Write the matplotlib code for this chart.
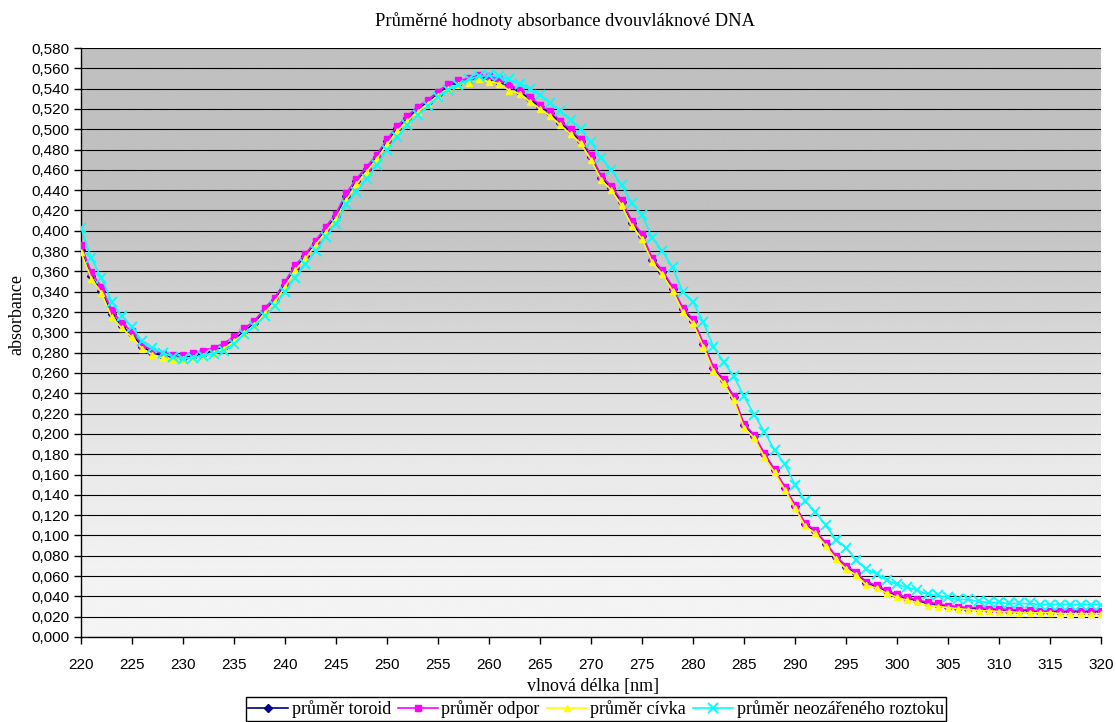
import numpy as np
import matplotlib.pyplot as plt
from matplotlib.ticker import MultipleLocator, FuncFormatter

# wavelength axis, 1 nm step
wavelength = list(range(220, 321))

toroid = [0.381, 0.355, 0.341, 0.318, 0.306, 0.298, 0.286, 0.280, 0.277, 0.276,
          0.275, 0.277, 0.279, 0.282, 0.286, 0.293, 0.301, 0.309, 0.321, 0.332,
          0.347, 0.363, 0.375, 0.388, 0.401, 0.415, 0.434, 0.449, 0.461, 0.473,
          0.488, 0.501, 0.511, 0.520, 0.527, 0.535, 0.543, 0.546, 0.548, 0.551,
          0.550, 0.547, 0.542, 0.537, 0.530, 0.522, 0.516, 0.506, 0.498, 0.488,
          0.473, 0.452, 0.442, 0.428, 0.408, 0.395, 0.371, 0.359, 0.343, 0.323,
          0.311, 0.289, 0.265, 0.253, 0.236, 0.209, 0.198, 0.180, 0.164, 0.147,
          0.129, 0.111, 0.104, 0.092, 0.079, 0.069, 0.063, 0.053, 0.050, 0.045,
          0.041, 0.038, 0.036, 0.033, 0.032, 0.030, 0.029, 0.028, 0.028, 0.027,
          0.027, 0.026, 0.026, 0.026, 0.025, 0.025, 0.025, 0.025, 0.025, 0.025,
          0.025]

odpor = [0.386, 0.359, 0.345, 0.322, 0.309, 0.301, 0.288, 0.282, 0.279, 0.278,
         0.278, 0.280, 0.282, 0.285, 0.289, 0.296, 0.304, 0.311, 0.324, 0.334,
         0.350, 0.366, 0.377, 0.390, 0.404, 0.417, 0.437, 0.451, 0.463, 0.475,
         0.490, 0.503, 0.513, 0.522, 0.529, 0.537, 0.545, 0.548, 0.550, 0.553,
         0.552, 0.549, 0.544, 0.539, 0.532, 0.524, 0.518, 0.508, 0.500, 0.490,
         0.475, 0.454, 0.444, 0.430, 0.410, 0.397, 0.373, 0.361, 0.345, 0.324,
         0.313, 0.290, 0.266, 0.254, 0.237, 0.210, 0.199, 0.181, 0.165, 0.148,
         0.130, 0.112, 0.105, 0.093, 0.080, 0.070, 0.064, 0.054, 0.051, 0.046,
         0.042, 0.039, 0.037, 0.034, 0.033, 0.031, 0.030, 0.029, 0.029, 0.028,
         0.028, 0.027, 0.027, 0.027, 0.026, 0.026, 0.026, 0.026, 0.026, 0.026,
         0.026]

civka = [0.379, 0.353, 0.339, 0.315, 0.304, 0.295, 0.284, 0.278, 0.275, 0.274,
         0.274, 0.275, 0.277, 0.280, 0.284, 0.291, 0.299, 0.307, 0.319, 0.330,
         0.345, 0.361, 0.373, 0.386, 0.399, 0.412, 0.430, 0.446, 0.458, 0.471,
         0.485, 0.498, 0.508, 0.517, 0.525, 0.533, 0.540, 0.544, 0.546, 0.549,
         0.547, 0.545, 0.538, 0.535, 0.527, 0.520, 0.513, 0.504, 0.495, 0.486,
         0.470, 0.450, 0.440, 0.425, 0.405, 0.392, 0.369, 0.357, 0.341, 0.320,
         0.309, 0.286, 0.262, 0.250, 0.233, 0.206, 0.196, 0.177, 0.162, 0.145,
         0.127, 0.109, 0.102, 0.090, 0.077, 0.067, 0.061, 0.051, 0.048, 0.043,
         0.039, 0.036, 0.034, 0.031, 0.030, 0.029, 0.028, 0.027, 0.026, 0.026,
         0.025, 0.025, 0.024, 0.024, 0.024, 0.024, 0.023, 0.023, 0.023, 0.023,
         0.023]

neozareny = [0.403, 0.373, 0.354, 0.330, 0.316, 0.305, 0.291, 0.285, 0.280, 0.276,
             0.274, 0.275, 0.277, 0.279, 0.282, 0.289, 0.298, 0.306, 0.316, 0.326,
             0.340, 0.354, 0.367, 0.380, 0.394, 0.407, 0.426, 0.438, 0.451, 0.465,
             0.480, 0.492, 0.504, 0.514, 0.523, 0.532, 0.539, 0.544, 0.549, 0.552,
             0.553, 0.552, 0.549, 0.545, 0.540, 0.534, 0.526, 0.518, 0.509, 0.500,
             0.487, 0.472, 0.460, 0.445, 0.427, 0.416, 0.393, 0.380, 0.364, 0.340,
             0.330, 0.310, 0.286, 0.271, 0.257, 0.237, 0.219, 0.202, 0.184, 0.170,
             0.150, 0.134, 0.123, 0.110, 0.096, 0.088, 0.076, 0.067, 0.062, 0.056,
             0.052, 0.049, 0.046, 0.042, 0.041, 0.039, 0.037, 0.037, 0.035, 0.034,
             0.034, 0.033, 0.033, 0.033, 0.032, 0.032, 0.032, 0.032, 0.032, 0.032,
             0.032]

labels = ['průměr toroid', 'průměr odpor', 'průměr cívka', 'průměr neozářeného roztoku']

W, H = 1116, 722
fig = plt.figure(figsize=(W / 100, H / 100), dpi=100)
ax = fig.add_axes([81 / W, 1 - 637 / H, 1020 / W, 589 / H])

# grey plot-area gradient, lighter towards the bottom
levels = np.linspace(0.58, 0, 400)
shade = np.interp(levels[::-1], [0, 0.05, 0.17, 0.30, 0.42, 0.58],
                  [245, 243, 233, 215, 192, 192])[::-1] / 255
ax.imshow(shade[:, None], extent=[220, 320, 0, 0.58], aspect='auto',
          cmap='gray', vmin=0, vmax=1, zorder=0, interpolation='bilinear')

ax.set_xlim(220, 320)
ax.set_ylim(0, 0.58)
ax.yaxis.set_major_locator(MultipleLocator(0.02))
ax.xaxis.set_major_locator(MultipleLocator(5))
ax.yaxis.set_major_formatter(FuncFormatter(lambda v, p: f'{v:.3f}'.replace('.', ',')))
ax.grid(axis='y', color='black', linewidth=0.8, zorder=1)
ax.set_axisbelow(False)

ax.plot(wavelength, toroid, color='#000080', marker='D', markersize=4.5, lw=1.2,
        label=labels[0], zorder=3)
ax.plot(wavelength, odpor, color='#ff00ff', marker='s', markersize=4.5, lw=1.2,
        label=labels[1], zorder=4)
ax.plot(wavelength, civka, color='#ffff00', marker='^', markersize=5, lw=1.2,
        label=labels[2], zorder=5)
ax.plot(wavelength, neozareny, color='#00ffff', marker='x', markersize=7, mew=1.4,
        lw=1.2, label=labels[3], zorder=6)

for s in ['top', 'right']:
    ax.spines[s].set_visible(False)
for s in ['left', 'bottom']:
    ax.spines[s].set_color('black')
    ax.spines[s].set_linewidth(1)
ax.tick_params(axis='both', direction='out', length=5, width=1, color='black',
               labelsize=11, pad=3)
for lab in ax.get_xticklabels() + ax.get_yticklabels():
    lab.set_family('Liberation Sans')
ax.tick_params(axis='x', pad=10)

serif = 'Liberation Serif'
fig.text(565 / W, 1 - 21 / H, 'Průměrné hodnoty absorbance dvouvláknové DNA',
         ha='center', va='center', family=serif, fontsize=13.3)
fig.text(593 / W, 1 - 687 / H, 'vlnová délka [nm]', ha='center', va='center',
         family=serif, fontsize=13)
fig.text(17 / W, 1 - 315 / H, 'absorbance', ha='center', va='center',
         rotation=90, family=serif, fontsize=13)

leg = fig.legend(loc='center', bbox_to_anchor=(596 / W, 1 - 709 / H), ncol=4,
                 prop={'family': serif, 'size': 13}, frameon=True, fancybox=False,
                 edgecolor='black', framealpha=1, borderpad=0.15,
                 handlelength=2.2, handletextpad=0.2, columnspacing=0.4,
                 borderaxespad=0)
leg.get_frame().set_linewidth(1)

fig.savefig('out.png', dpi=100)
